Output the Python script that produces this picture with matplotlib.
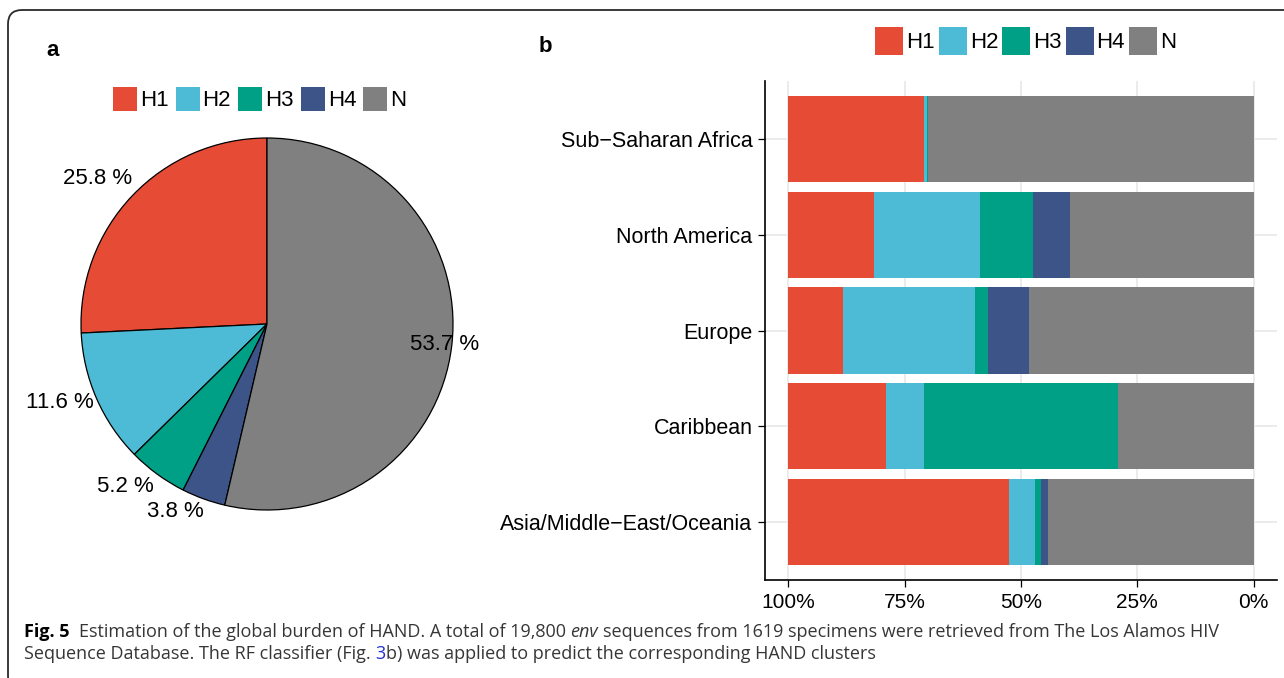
import numpy as np
import matplotlib
matplotlib.use("Agg")
import matplotlib.pyplot as plt
from matplotlib.patches import Patch, FancyBboxPatch
from matplotlib.transforms import IdentityTransform

# ---- data -------------------------------------------------------------
clusters = ["H1", "H2", "H3", "H4", "N"]
cluster_colors = ["#E64B35", "#4DBBD5", "#00A087", "#3C5488", "#808080"]

# global share of each HAND cluster (%)
global_share = [25.8, 11.6, 5.2, 3.8, 53.7]

# regional composition (%), one list per cluster, regions top to bottom
regions = ["Sub\u2212Saharan Africa", "North America", "Europe", "Caribbean",
           "Asia/Middle\u2212East/Oceania"]
region_H1 = [29.2, 18.4, 11.7, 20.9, 47.5]
region_H2 = [0.5, 22.7, 28.5, 8.2, 5.6]
region_H3 = [0.4, 11.4, 2.8, 41.8, 1.1]
region_H4 = [0.0, 8.0, 8.8, 0.0, 1.5]
region_N = [69.9, 39.5, 48.2, 29.1, 44.3]

pct_ticks = [100, 75, 50, 25, 0]
pct_tick_labels = ["100%", "75%", "50%", "25%", "0%"]

# ---- figure -------------------------------------------------------------
W, H = 1284, 678
DPI = 100
plt.rcParams["font.family"] = ["Liberation Sans", "DejaVu Sans"]
fig = plt.figure(figsize=(W / DPI, H / DPI), dpi=DPI)
fig.patch.set_facecolor("white")


def px_rect(left, top, width, height):
    """figure-fraction rectangle from pixel box (top-left origin)."""
    return [left / W, 1 - (top + height) / H, width / W, height / H]


# outer frame with rounded corners
frame = FancyBboxPatch((8, -12), 1320, H - 10 + 12,
                       boxstyle="round,pad=0,rounding_size=14",
                       transform=IdentityTransform(), facecolor="none",
                       edgecolor="#2a2a2a", linewidth=1.3, zorder=0)
fig.patches.append(frame)

# ---- panel a: pie ---------------------------------------------------------
R = 186
cx, cy = 267, 324
ax_pie = fig.add_axes(px_rect(cx - R, cy - R, 2 * R, 2 * R))
wedges, _ = ax_pie.pie(global_share, colors=cluster_colors, startangle=90,
                       counterclock=True, radius=1.0,
                       wedgeprops=dict(edgecolor="black", linewidth=0.9))
ax_pie.set_xlim(-1, 1)
ax_pie.set_ylim(-1, 1)
ax_pie.set_aspect("equal")
ax_pie.axis("off")

label_radius = [1.20, 1.19, 1.16, 1.12, 0.96]
label_nudge = [3.0, -3.0, -5.0, -6.0, 0.0]
for w, v, rr, dn in zip(wedges, global_share, label_radius, label_nudge):
    ang = np.deg2rad((w.theta1 + w.theta2) / 2 + dn)
    ax_pie.text(rr * np.cos(ang), rr * np.sin(ang), f"{v:.1f} %",
                ha="center", va="center", fontsize=16, color="black",
                clip_on=False)

handles = [Patch(facecolor=c, edgecolor="none") for c in cluster_colors]
fs_leg = 16
fs_px = fs_leg * DPI / 72.0
fig.legend(handles, clusters, loc="center left",
           bbox_to_anchor=(113 / W, 1 - 99 / H), ncol=5, frameon=False,
           fontsize=fs_leg, handlelength=24 / fs_px, handleheight=1.29,
           handletextpad=3 / fs_px, columnspacing=7 / fs_px,
           borderpad=0, borderaxespad=0)

fig.text(53 / W, 1 - 50 / H, "a", fontsize=16, fontweight="bold",
         ha="center", va="center")

# ---- panel b: stacked horizontal bars --------------------------------------
ax_bar = fig.add_axes(px_rect(765, 81.4, 512, 498.2))
ypos = np.arange(1, len(regions) + 1)
series = [region_H1, region_H2, region_H3, region_H4, region_N]
left = np.zeros(len(regions))
# stack from the 0% end so H1 sits against 100%
for vals, col in zip(reversed(series), reversed(cluster_colors)):
    vals = np.asarray(vals, dtype=float)
    ax_bar.barh(ypos, vals, left=left, height=0.9, color=col, linewidth=0)
    left += vals

ax_bar.set_xlim(105, -5)
ax_bar.set_ylim(5.6, 0.4)
ax_bar.set_xticks(pct_ticks)
ax_bar.set_xticklabels(pct_tick_labels)
ax_bar.set_yticks(ypos)
ax_bar.set_yticklabels(regions)
ax_bar.set_axisbelow(True)
ax_bar.grid(True, color="#E8E8E8", linewidth=1.2)
for s in ("top", "right"):
    ax_bar.spines[s].set_visible(False)
for s in ("left", "bottom"):
    ax_bar.spines[s].set_color("black")
    ax_bar.spines[s].set_linewidth(1.2)
ax_bar.tick_params(axis="y", length=5, width=0.9, pad=4, labelsize=15.5,
                   colors="black")
ax_bar.tick_params(axis="x", length=5, width=0.9, pad=5, labelsize=15,
                   colors="black")

fig.legend(handles, clusters, loc="center left",
           bbox_to_anchor=(875 / W, 1 - 41 / H), ncol=5, frameon=False,
           fontsize=fs_leg, handlelength=28 / fs_px, handleheight=1.53,
           handletextpad=3 / fs_px, columnspacing=4 / fs_px,
           borderpad=0, borderaxespad=0)

fig.text(545 / W, 1 - 47 / H, "b", fontsize=16, fontweight="bold",
         ha="center", va="center")

# ---- caption ----------------------------------------------------------------
renderer = fig.canvas.get_renderer()
cap_font = ["Open Sans", "DejaVu Sans"]
cap_size = 13.0
base = dict(family=cap_font, fontsize=cap_size, color="#363636")


def advance(s, **kw):
    t = fig.text(0, 0, "|" + s + "|", **kw)
    w1 = t.get_window_extent(renderer).width
    t.set_text("||")
    w2 = t.get_window_extent(renderer).width
    t.remove()
    return w1 - w2


def draw_runs(runs, x0, baseline):
    x = x0
    for s, extra in runs:
        kw = dict(base)
        kw.update(extra)
        lead = s[: len(s) - len(s.lstrip(" "))]
        body = s.strip(" ")
        if body:
            fig.text((x + advance(lead, **kw)) / W, 1 - baseline / H, body,
                     ha="left", va="baseline", **kw)
        x += advance(s, **kw)


line1 = [("Fig. 5", dict(fontweight="bold", color="black")),
         ("  Estimation of the global burden of HAND. A total of 19,800 ", {}),
         ("env", dict(style="italic")),
         (" sequences from 1619 specimens were retrieved from The Los Alamos HIV", {})]
line2 = [("Sequence Database. The RF classifier (Fig. ", {}),
         ("3", dict(color="#2233cc")),
         ("b) was applied to predict the corresponding HAND clusters", {})]
draw_runs(line1, 24, 637)
draw_runs(line2, 24, 659)

fig.savefig("out.png", dpi=DPI, facecolor="white")
